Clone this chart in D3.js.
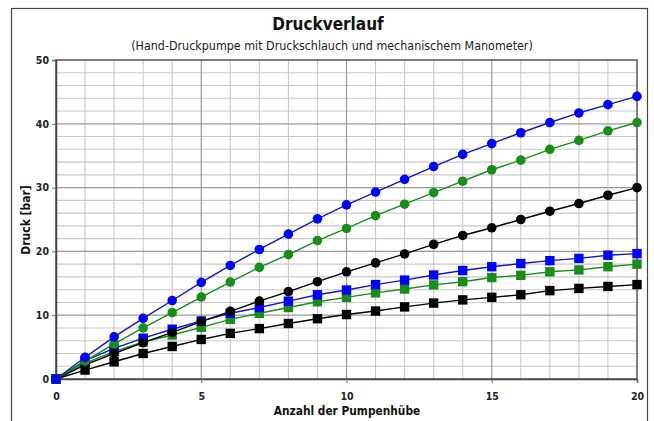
<!DOCTYPE html>
<html>
<head>
<meta charset="utf-8">
<script src="https://cdn.jsdelivr.net/npm/d3@7"></script>
<style>
  body { margin: 0; background: #fff; }
  text { font-family: "DejaVu Sans Condensed", "DejaVu Sans", sans-serif; }
</style>
</head>
<body>
<svg id="main" width="654" height="421"></svg>
<script>
// strokes of the pump
let strokes = d3.range(0, 21);

// circle series
let blueCircle = [0, 3.4, 6.6, 9.5, 12.3, 15.15, 17.8, 20.3, 22.7, 25.1, 27.3, 29.3, 31.3, 33.3, 35.2, 36.9, 38.6, 40.2, 41.7, 43.0, 44.3];
let greenCircle = [0, 2.8, 5.5, 8.0, 10.4, 12.85, 15.2, 17.5, 19.5, 21.7, 23.6, 25.6, 27.4, 29.2, 31.0, 32.8, 34.3, 36.0, 37.4, 38.9, 40.2];
let blackCircle = [0, 2.2, 4.0, 5.7, 7.3, 9.0, 10.6, 12.2, 13.7, 15.25, 16.8, 18.2, 19.6, 21.1, 22.5, 23.7, 25.0, 26.3, 27.5, 28.8, 30.0];
// square series
let blueSquare = [0, 2.9, 4.8, 6.4, 7.8, 9.1, 10.3, 11.2, 12.2, 13.2, 13.95, 14.8, 15.5, 16.3, 17.0, 17.6, 18.1, 18.55, 18.9, 19.4, 19.65];
let greenSquare = [0, 2.5, 4.3, 5.8, 6.9, 8.1, 9.35, 10.3, 11.2, 12.1, 12.8, 13.5, 14.1, 14.75, 15.25, 15.9, 16.25, 16.8, 17.1, 17.6, 18.0];
let blackSquare = [0, 1.4, 2.7, 4.0, 5.1, 6.2, 7.15, 7.9, 8.7, 9.45, 10.1, 10.65, 11.3, 11.9, 12.4, 12.8, 13.2, 13.85, 14.2, 14.5, 14.8];

let xTicks = [0, 5, 10, 15, 20];
let yTicks = [0, 10, 20, 30, 40, 50];

let series = [
  {values: blackSquare, color: "#000000", line: "#000000", shape: "square"},
  {values: greenSquare, color: "#1a8c1a", line: "#1a8c1a", shape: "square"},
  {values: blueSquare, color: "#0000ff", line: "#1515c8", shape: "square"},
  {values: blackCircle, color: "#000000", line: "#000000", shape: "circle"},
  {values: greenCircle, color: "#1a8c1a", line: "#1a8c1a", shape: "circle"},
  {values: blueCircle, color: "#0000ff", line: "#1515c8", shape: "circle"}
];

const svg = d3.select("#main");

// outer frame
svg.append("rect")
  .attr("x", 11.5).attr("y", 8.5)
  .attr("width", 636).attr("height", 430)
  .attr("fill", "none").attr("stroke", "#444").attr("stroke-width", 1.2);

// title
svg.append("text")
  .attr("x", 328).attr("y", 30)
  .attr("text-anchor", "middle")
  .style("font-size", "17px").style("font-weight", "bold").attr("fill", "#111")
  .text("Druckverlauf");
svg.append("text")
  .attr("x", 332).attr("y", 50)
  .attr("text-anchor", "middle")
  .style("font-size", "12.4px").attr("fill", "#222")
  .text("(Hand-Druckpumpe mit Druckschlauch und mechanischem Manometer)");

const margin = {top: 60, left: 56, right: 637, bottom: 379};

const x = d3.scaleLinear().domain([0, 20]).range([margin.left, margin.right]);
const y = d3.scaleLinear().domain([0, 50]).range([margin.bottom, margin.top]);

const g = svg.append("g");

// minor grid
g.append("g").selectAll("line")
  .data(d3.range(0, 21).filter(d => d % 5 != 0))
  .enter().append("line")
  .attr("x1", d => x(d)).attr("x2", d => x(d))
  .attr("y1", y(0)).attr("y2", y(50))
  .attr("stroke", "#c8c8c8").attr("stroke-width", 1.1);
g.append("g").selectAll("line")
  .data(d3.range(0, 51, 2).filter(d => d % 10 != 0))
  .enter().append("line")
  .attr("y1", d => y(d)).attr("y2", d => y(d))
  .attr("x1", x(0)).attr("x2", x(20))
  .attr("stroke", "#c8c8c8").attr("stroke-width", 1.1);

// major grid
g.append("g").selectAll("line")
  .data(xTicks.slice(1, -1))
  .enter().append("line")
  .attr("x1", d => x(d)).attr("x2", d => x(d))
  .attr("y1", y(0)).attr("y2", y(50))
  .attr("stroke", "#999").attr("stroke-width", 1.2);
g.append("g").selectAll("line")
  .data(yTicks.slice(1, -1))
  .enter().append("line")
  .attr("y1", d => y(d)).attr("y2", d => y(d))
  .attr("x1", x(0)).attr("x2", x(20))
  .attr("stroke", "#999").attr("stroke-width", 1.2);

// plot border
g.append("rect")
  .attr("x", x(0)).attr("y", y(50))
  .attr("width", x(20) - x(0)).attr("height", y(0) - y(50))
  .attr("fill", "none").attr("stroke", "#555").attr("stroke-width", 1.5);

// axes
const xAxis = svg.append("g")
  .attr("transform", "translate(0," + y(0) + ")")
  .call(d3.axisBottom(x).tickValues(xTicks).tickSize(4).tickPadding(10));
const yAxis = svg.append("g")
  .attr("transform", "translate(" + x(0) + ",0)")
  .call(d3.axisLeft(y).tickValues(yTicks).tickSize(4).tickPadding(3));
[xAxis, yAxis].forEach(a => {
  a.select(".domain").attr("stroke", "#444").attr("stroke-width", 1.5);
  a.selectAll(".tick line").attr("stroke", "#666");
  a.selectAll("text").style("font-size", "10.5px").style("font-weight", "bold")
    .style("font-family", "'DejaVu Sans Condensed', sans-serif").attr("fill", "#222");
});

// axis titles
svg.append("text")
  .attr("x", 347).attr("y", 415)
  .attr("text-anchor", "middle")
  .style("font-size", "11.8px").style("font-weight", "bold").attr("fill", "#111")
  .text("Anzahl der Pumpenhübe");
svg.append("text")
  .attr("transform", "translate(30,220) rotate(-90)")
  .attr("text-anchor", "middle")
  .style("font-size", "12px").style("font-weight", "bold").attr("fill", "#111")
  .text("Druck [bar]");

// series
const line = d3.line().x((d, i) => x(strokes[i])).y(d => y(d));

series.forEach(s => {
  svg.append("path")
    .attr("d", line(s.values))
    .attr("fill", "none").attr("stroke", s.line).attr("stroke-width", 1.4);
  if (s.shape == "circle") {
    svg.append("g").selectAll("circle")
      .data(s.values).enter().append("circle")
      .attr("cx", (d, i) => x(strokes[i])).attr("cy", d => y(d))
      .attr("r", 4.8).attr("fill", s.color);
  } else {
    svg.append("g").selectAll("rect")
      .data(s.values).enter().append("rect")
      .attr("x", (d, i) => x(strokes[i]) - 4.7).attr("y", d => y(d) - 4.7)
      .attr("width", 9.4).attr("height", 9.4).attr("fill", s.color);
  }
});
</script>
</body>
</html>
